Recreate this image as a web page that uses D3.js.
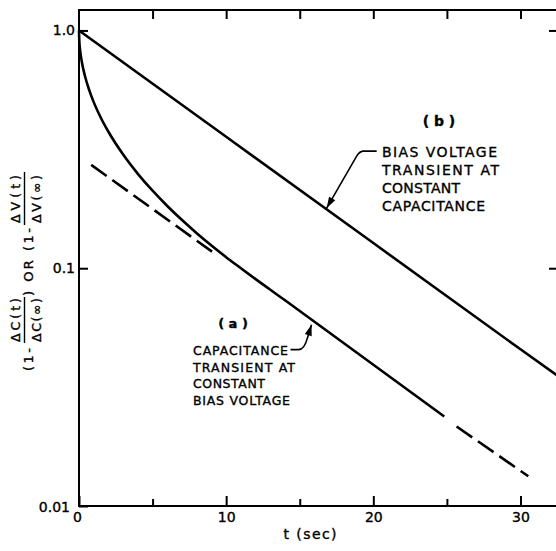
<!DOCTYPE html>
<html>
<head>
<meta charset="utf-8">
<script src="https://cdn.jsdelivr.net/npm/d3@7"></script>
<style>
  body { margin: 0; background: #fff; }
  svg text { font-family: "DejaVu Sans", sans-serif; fill: #000; stroke: #000; stroke-width: 0.35px; }
</style>
</head>
<body>
<svg id="chart" width="556" height="551"></svg>
<script>
// curve (a): capacitance transient at constant bias voltage
const tA = [0, 0.02, 0.08, 0.2, 0.4, 0.7, 1.0, 1.5, 2, 3, 4, 5, 6, 7, 8, 9, 10, 11, 12, 13, 14, 24.82];
const vA = [1.0, 0.906, 0.822, 0.733, 0.645, 0.560, 0.4995, 0.4274, 0.3749, 0.3006, 0.2495, 0.2118,
    0.1827, 0.1594, 0.1404, 0.1246, 0.1113, 0.1000, 0.0900, 0.0812, 0.0733, 0.0238];

// asymptote of (a), dashed pieces
const tDash1 = [0.83, 9.04];
const vDash1 = [0.272, 0.1174];
const tDash2 = [25.66, 30.53];
const vDash2 = [0.0216, 0.01334];

// curve (b): bias voltage transient at constant capacitance
const tB = [0, 10, 20, 30, 32.55];
const vB = [1.0, 0.357, 0.1276, 0.0456, 0.0352];

const xMajor = [0, 10, 20, 30];
const xMinor = [5, 15, 25];
const xTop = [5, 10, 15, 20, 25, 30];
const yTicks = [0.01, 0.1, 1.0];
const yTickLabels = ['0.01', '0.1', '1.0'];

const svg = d3.select('#chart'),
    plotLeft = 79, plotRight = 558, plotTop = 10, plotBottom = 506;

const x = d3.scaleLinear().domain([0, 32.55]).range([plotLeft, plotRight]);
const y = d3.scaleLog().domain([0.01, 1.219]).range([plotBottom, plotTop]);

const line = d3.line()
    .x(d => x(d[0]))
    .y(d => y(d[1]));

// frame
svg.append('rect')
    .attr('x', plotLeft).attr('y', plotTop)
    .attr('width', plotRight - plotLeft).attr('height', plotBottom - plotTop)
    .attr('fill', 'none').attr('stroke', '#000').attr('stroke-width', 2);

// bottom ticks + labels
const gx = svg.append('g')
    .attr('transform', 'translate(0,' + plotBottom + ')')
    .call(d3.axisBottom(x).tickValues(xMajor).tickSize(-10).tickSizeOuter(0).tickPadding(6));
svg.append('g')
    .attr('transform', 'translate(0,' + plotBottom + ')')
    .call(d3.axisBottom(x).tickValues(xMinor).tickSize(-7).tickSizeOuter(0).tickFormat(''));
svg.append('g')
    .attr('transform', 'translate(0,' + plotTop + ')')
    .call(d3.axisTop(x).tickValues(xTop).tickSize(-9).tickSizeOuter(0).tickFormat(''));

// left / right ticks
const gy = svg.append('g')
    .attr('transform', 'translate(' + plotLeft + ',0)')
    .call(d3.axisLeft(y).tickValues(yTicks).tickSize(-9).tickSizeOuter(0).tickPadding(4)
        .tickFormat((d, i) => yTickLabels[i]));
svg.append('g')
    .attr('transform', 'translate(' + plotRight + ',0)')
    .call(d3.axisRight(y).tickValues(yTicks.slice(1)).tickSize(-9).tickSizeOuter(0).tickFormat(''));

svg.selectAll('.domain').remove();
svg.selectAll('.tick line').attr('stroke', '#000').attr('stroke-width', 2);
svg.selectAll('.tick text').attr('font-size', 14).attr('font-family', '"DejaVu Sans", sans-serif').attr('fill', '#000');

gx.selectAll('.tick text').filter(d => d === 0).attr('x', -2);
gy.selectAll('.tick text').filter(d => d === 0.01).attr('x', -9).attr('dy', '0.42em');

// curves
svg.append('path')
    .datum(d3.zip(tB, vB))
    .attr('d', line)
    .attr('fill', 'none').attr('stroke', '#000').attr('stroke-width', 2.6);

svg.append('path')
    .datum(d3.zip(tA, vA))
    .attr('d', line.curve(d3.curveMonotoneX))
    .attr('fill', 'none').attr('stroke', '#000').attr('stroke-width', 2.6);
line.curve(d3.curveLinear);

[[tDash1, vDash1], [tDash2, vDash2]].forEach(([t, v]) => {
    svg.append('path')
        .datum(d3.zip(t, v))
        .attr('d', line)
        .attr('fill', 'none').attr('stroke', '#000').attr('stroke-width', 2.6)
        .attr('stroke-dasharray', '19,7');
});

// annotations
function arrowHead(tip, from) {
    const a = Math.atan2(tip[1] - from[1], tip[0] - from[0]),
        len = 11, w = 3.6,
        bx = tip[0] - len * Math.cos(a), by = tip[1] - len * Math.sin(a);
    svg.append('path')
        .attr('d', 'M' + tip[0] + ',' + tip[1] +
            'L' + (bx + w * Math.sin(a)) + ',' + (by - w * Math.cos(a)) +
            'L' + (bx - w * Math.sin(a)) + ',' + (by + w * Math.cos(a)) + 'Z')
        .attr('fill', '#000');
}

function leader(d) {
    svg.append('path').attr('d', d)
        .attr('fill', 'none').attr('stroke', '#000').attr('stroke-width', 1.6);
}

// (b) arrow
const tipB = [x(16.83), y(0.179)];
leader('M' + (tipB[0] + 50) + ',' + (tipB[1] - 57) + 'L' + (tipB[0] + 37) + ',' + (tipB[1] - 57) +
    'Q' + (tipB[0] + 33) + ',' + (tipB[1] - 57) + ' ' + (tipB[0] + 30) + ',' + (tipB[1] - 52) +
    'L' + tipB[0] + ',' + tipB[1]);
arrowHead(tipB, [tipB[0] + 30, tipB[1] - 52]);

// (a) arrow
const tipA = [x(15.8), y(0.0579)];
leader('M' + (tipA[0] - 21) + ',' + (tipA[1] + 25) + 'L' + (tipA[0] - 13) + ',' + (tipA[1] + 25) +
    'Q' + (tipA[0] - 7) + ',' + (tipA[1] + 25) + ' ' + (tipA[0] - 4) + ',' + (tipA[1] + 13) +
    'L' + tipA[0] + ',' + tipA[1]);
arrowHead(tipA, [tipA[0] - 4, tipA[1] + 13]);

function textBlock(lines, x0, y0, dy, size, lengths) {
    lines.forEach((s, i) => {
        svg.append('text')
            .attr('x', x0).attr('y', y0 + i * dy)
            .attr('font-size', size)
            .attr('textLength', lengths[i]).attr('lengthAdjust', 'spacing')
            .text(s);
    });
}

svg.append('text').attr('x', 439).attr('y', 126).attr('text-anchor', 'middle')
    .attr('font-size', 14).attr('font-weight', 'bold').text('( b )');
textBlock(['BIAS VOLTAGE', 'TRANSIENT AT', 'CONSTANT', 'CAPACITANCE'], 382, 157, 18, 14, [115, 117, 78, 103]);

svg.append('text').attr('x', 233).attr('y', 328).attr('text-anchor', 'middle')
    .attr('font-size', 13).attr('font-weight', 'bold').text('( a )');
textBlock(['CAPACITANCE', 'TRANSIENT AT', 'CONSTANT', 'BIAS VOLTAGE'], 193, 355, 16.7, 12.5, [95, 102, 72, 97]);

svg.append('text').attr('x', 310).attr('y', 539).attr('text-anchor', 'middle')
    .attr('font-size', 14).attr('textLength', 53).attr('lengthAdjust', 'spacing').text('t (sec)');

// y axis title, rotated
const gt = svg.append('g').attr('transform', 'rotate(-90)');
function rt(s, pageY, baseX, size, anchor, len) {
    const t = gt.append('text').attr('x', -pageY).attr('y', baseX)
        .attr('font-size', size).attr('text-anchor', anchor).text(s);
    if (len) t.attr('textLength', len).attr('lengthAdjust', 'spacing');
}
rt('(1-', 371, 33, 13, 'start', 23);
rt('\u0394C(t)', 320, 20, 12.5, 'middle', 44);
rt('\u0394C(\u221e)', 320, 41, 12.5, 'middle', 44);
gt.append('line').attr('x1', -343).attr('x2', -297).attr('y1', 24.5).attr('y2', 24.5)
    .attr('stroke', '#000').attr('stroke-width', 1.4);
rt(') OR (1-', 296, 33, 13, 'start', 68);
rt('\u0394V(t)', 199, 20, 12.5, 'middle', 48);
rt('\u0394V(\u221e)', 199, 41, 12.5, 'middle', 48);
gt.append('line').attr('x1', -225).attr('x2', -172).attr('y1', 24.5).attr('y2', 24.5)
    .attr('stroke', '#000').attr('stroke-width', 1.4);
</script>
</body>
</html>
